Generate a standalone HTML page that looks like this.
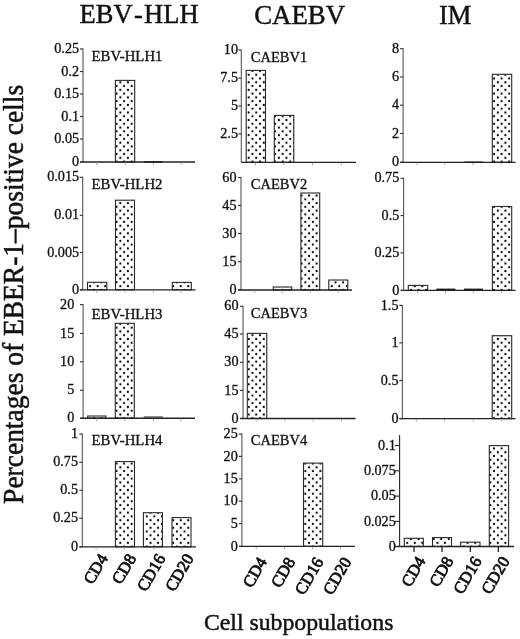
<!DOCTYPE html><html><head><meta charset="utf-8"><style>html,body{margin:0;padding:0;background:#fff;}svg{display:block;will-change:transform;filter:blur(0.3px);}text{font-family:"Liberation Serif", serif;fill:#111;stroke:#111;stroke-width:0.32px;}.t{stroke-width:0.45px;}.yl{stroke-width:0.5px;}</style></head><body>
<svg width="520" height="639" viewBox="0 0 520 639">
<defs><pattern id="dots" patternUnits="userSpaceOnUse" width="7.55" height="7.55" x="1.4275" y="1.1275"><circle cx="1.8875" cy="1.8875" r="1.1" fill="#000"/><circle cx="5.6625" cy="5.6625" r="1.1" fill="#000"/></pattern></defs>
<rect width="520" height="639" fill="#fff"/>
<text class="t" x="79.6" y="23.0" font-size="26.5">EBV</text><text class="t" x="134.0" y="23.0" font-size="26.5">-</text><text class="t" x="144.1" y="23.0" font-size="26.5">HLH</text>
<text class="t" x="254.2" y="24.4" font-size="26.8">CAEBV</text>
<text class="t" x="439.0" y="23.9" font-size="26.5">IM</text>
<text class="t" x="203.9" y="630.4" font-size="23.8" textLength="189.5" lengthAdjust="spacingAndGlyphs">Cell subpopulations</text>
<text class="yl" transform="translate(23.4,503.9) rotate(-90)" font-size="28.4" textLength="419" lengthAdjust="spacingAndGlyphs">Percentages of EBER-1–positive cells</text>
<rect x="115.40" y="80.40" width="19.30" height="81.60" fill="url(#dots)" stroke="#2a2a2a" stroke-width="1.1"/><line x1="83.00" y1="48.50" x2="83.00" y2="162.00" stroke="#555" stroke-width="1.1"/><line x1="80.20" y1="162.00" x2="195.00" y2="162.00" stroke="#222" stroke-width="1.35"/><line x1="80.00" y1="49.00" x2="83.00" y2="49.00" stroke="#333" stroke-width="1.15"/><text x="79.10" y="53.10" font-size="14.2" text-anchor="end">0.25</text><line x1="80.00" y1="71.50" x2="83.00" y2="71.50" stroke="#333" stroke-width="1.15"/><text x="79.10" y="75.60" font-size="14.2" text-anchor="end">0.2</text><line x1="80.00" y1="94.00" x2="83.00" y2="94.00" stroke="#333" stroke-width="1.15"/><text x="79.10" y="98.10" font-size="14.2" text-anchor="end">0.15</text><line x1="80.00" y1="116.50" x2="83.00" y2="116.50" stroke="#333" stroke-width="1.15"/><text x="79.10" y="120.60" font-size="14.2" text-anchor="end">0.1</text><line x1="80.00" y1="139.00" x2="83.00" y2="139.00" stroke="#333" stroke-width="1.15"/><text x="79.10" y="143.10" font-size="14.2" text-anchor="end">0.05</text><line x1="80.00" y1="162.00" x2="83.00" y2="162.00" stroke="#333" stroke-width="1.15"/><text x="79.10" y="166.10" font-size="14.2" text-anchor="end">0</text><line x1="96.60" y1="162.50" x2="96.60" y2="165.00" stroke="#aaa" stroke-width="1"/><line x1="125.00" y1="162.50" x2="125.00" y2="165.00" stroke="#aaa" stroke-width="1"/><line x1="153.40" y1="162.50" x2="153.40" y2="165.00" stroke="#aaa" stroke-width="1"/><line x1="181.20" y1="162.50" x2="181.20" y2="165.00" stroke="#aaa" stroke-width="1"/><text x="91.50" y="60.70" font-size="14.8">EBV-HLH1</text><line x1="143.70" y1="161.90" x2="162.50" y2="161.90" stroke="#1a1a1a" stroke-width="1.4"/>
<rect x="87.50" y="282.30" width="19.30" height="7.50" fill="url(#dots)" stroke="#2a2a2a" stroke-width="1.1"/><rect x="115.50" y="200.20" width="19.00" height="89.60" fill="url(#dots)" stroke="#2a2a2a" stroke-width="1.1"/><rect x="172.30" y="282.40" width="19.00" height="7.40" fill="url(#dots)" stroke="#2a2a2a" stroke-width="1.1"/><line x1="82.70" y1="176.80" x2="82.70" y2="289.80" stroke="#555" stroke-width="1.1"/><line x1="79.90" y1="289.80" x2="195.60" y2="289.80" stroke="#222" stroke-width="1.35"/><line x1="79.70" y1="177.30" x2="82.70" y2="177.30" stroke="#333" stroke-width="1.15"/><text x="79.10" y="181.40" font-size="14.2" text-anchor="end">0.015</text><line x1="79.70" y1="215.30" x2="82.70" y2="215.30" stroke="#333" stroke-width="1.15"/><text x="79.10" y="219.40" font-size="14.2" text-anchor="end">0.01</text><line x1="79.70" y1="252.50" x2="82.70" y2="252.50" stroke="#333" stroke-width="1.15"/><text x="79.10" y="256.60" font-size="14.2" text-anchor="end">0.005</text><line x1="79.70" y1="289.80" x2="82.70" y2="289.80" stroke="#333" stroke-width="1.15"/><text x="79.10" y="293.90" font-size="14.2" text-anchor="end">0</text><line x1="96.60" y1="290.30" x2="96.60" y2="292.80" stroke="#aaa" stroke-width="1"/><line x1="125.00" y1="290.30" x2="125.00" y2="292.80" stroke="#aaa" stroke-width="1"/><line x1="153.40" y1="290.30" x2="153.40" y2="292.80" stroke="#aaa" stroke-width="1"/><line x1="181.00" y1="290.30" x2="181.00" y2="292.80" stroke="#aaa" stroke-width="1"/><text x="91.50" y="188.80" font-size="14.8">EBV-HLH2</text>
<rect x="87.70" y="416.00" width="18.20" height="2.20" fill="url(#dots)" stroke="#2a2a2a" stroke-width="1.1"/><rect x="115.30" y="323.30" width="19.00" height="94.90" fill="url(#dots)" stroke="#2a2a2a" stroke-width="1.1"/><line x1="143.70" y1="417.00" x2="163.00" y2="417.00" stroke="#444" stroke-width="1.2"/><line x1="83.10" y1="304.30" x2="83.10" y2="418.20" stroke="#555" stroke-width="1.1"/><line x1="80.30" y1="418.20" x2="195.00" y2="418.20" stroke="#222" stroke-width="1.35"/><line x1="80.10" y1="304.60" x2="83.10" y2="304.60" stroke="#333" stroke-width="1.15"/><text x="74.30" y="308.70" font-size="14.2" text-anchor="end">20</text><line x1="80.10" y1="333.50" x2="83.10" y2="333.50" stroke="#333" stroke-width="1.15"/><text x="74.30" y="337.60" font-size="14.2" text-anchor="end">15</text><line x1="80.10" y1="361.80" x2="83.10" y2="361.80" stroke="#333" stroke-width="1.15"/><text x="74.30" y="365.90" font-size="14.2" text-anchor="end">10</text><line x1="80.10" y1="390.30" x2="83.10" y2="390.30" stroke="#333" stroke-width="1.15"/><text x="74.30" y="394.40" font-size="14.2" text-anchor="end">5</text><line x1="80.10" y1="418.20" x2="83.10" y2="418.20" stroke="#333" stroke-width="1.15"/><text x="74.30" y="422.30" font-size="14.2" text-anchor="end">0</text><line x1="96.80" y1="418.70" x2="96.80" y2="421.20" stroke="#aaa" stroke-width="1"/><line x1="125.00" y1="418.70" x2="125.00" y2="421.20" stroke="#aaa" stroke-width="1"/><line x1="153.40" y1="418.70" x2="153.40" y2="421.20" stroke="#aaa" stroke-width="1"/><line x1="181.00" y1="418.70" x2="181.00" y2="421.20" stroke="#aaa" stroke-width="1"/><text x="91.50" y="318.50" font-size="14.8">EBV-HLH3</text>
<rect x="115.40" y="461.60" width="19.10" height="85.20" fill="url(#dots)" stroke="#2a2a2a" stroke-width="1.1"/><rect x="143.40" y="512.70" width="19.00" height="34.10" fill="url(#dots)" stroke="#2a2a2a" stroke-width="1.1"/><rect x="172.00" y="517.60" width="19.00" height="29.20" fill="url(#dots)" stroke="#2a2a2a" stroke-width="1.1"/><line x1="82.30" y1="433.60" x2="82.30" y2="546.80" stroke="#555" stroke-width="1.1"/><line x1="79.50" y1="546.80" x2="196.00" y2="546.80" stroke="#222" stroke-width="1.35"/><line x1="79.30" y1="434.10" x2="82.30" y2="434.10" stroke="#333" stroke-width="1.15"/><text x="78.00" y="438.20" font-size="14.2" text-anchor="end">1</text><line x1="79.30" y1="462.30" x2="82.30" y2="462.30" stroke="#333" stroke-width="1.15"/><text x="78.00" y="466.40" font-size="14.2" text-anchor="end">0.75</text><line x1="79.30" y1="490.30" x2="82.30" y2="490.30" stroke="#333" stroke-width="1.15"/><text x="78.00" y="494.40" font-size="14.2" text-anchor="end">0.5</text><line x1="79.30" y1="518.20" x2="82.30" y2="518.20" stroke="#333" stroke-width="1.15"/><text x="78.00" y="522.30" font-size="14.2" text-anchor="end">0.25</text><line x1="79.30" y1="546.80" x2="82.30" y2="546.80" stroke="#333" stroke-width="1.15"/><text x="78.00" y="550.90" font-size="14.2" text-anchor="end">0</text><line x1="96.10" y1="547.30" x2="96.10" y2="549.80" stroke="#aaa" stroke-width="1"/><line x1="124.40" y1="547.30" x2="124.40" y2="549.80" stroke="#aaa" stroke-width="1"/><line x1="153.70" y1="547.30" x2="153.70" y2="549.80" stroke="#aaa" stroke-width="1"/><line x1="181.90" y1="547.30" x2="181.90" y2="549.80" stroke="#aaa" stroke-width="1"/><text x="91.50" y="445.00" font-size="14.8">EBV-HLH4</text>
<rect x="246.20" y="70.40" width="19.30" height="91.90" fill="url(#dots)" stroke="#2a2a2a" stroke-width="1.1"/><rect x="274.30" y="115.40" width="19.50" height="46.90" fill="url(#dots)" stroke="#2a2a2a" stroke-width="1.1"/><line x1="241.30" y1="49.50" x2="241.30" y2="162.30" stroke="#555" stroke-width="1.1"/><line x1="241.30" y1="162.30" x2="356.00" y2="162.30" stroke="#222" stroke-width="1.35"/><line x1="238.30" y1="50.00" x2="241.30" y2="50.00" stroke="#333" stroke-width="1.15"/><text x="238.00" y="54.10" font-size="14.2" text-anchor="end">10</text><line x1="238.30" y1="78.10" x2="241.30" y2="78.10" stroke="#333" stroke-width="1.15"/><text x="238.00" y="82.20" font-size="14.2" text-anchor="end">7.5</text><line x1="238.30" y1="106.00" x2="241.30" y2="106.00" stroke="#333" stroke-width="1.15"/><text x="238.00" y="110.10" font-size="14.2" text-anchor="end">5</text><line x1="238.30" y1="133.90" x2="241.30" y2="133.90" stroke="#333" stroke-width="1.15"/><text x="238.00" y="138.00" font-size="14.2" text-anchor="end">2.5</text><line x1="255.50" y1="162.80" x2="255.50" y2="165.30" stroke="#aaa" stroke-width="1"/><line x1="283.80" y1="162.80" x2="283.80" y2="165.30" stroke="#aaa" stroke-width="1"/><line x1="312.50" y1="162.80" x2="312.50" y2="165.30" stroke="#aaa" stroke-width="1"/><line x1="341.20" y1="162.80" x2="341.20" y2="165.30" stroke="#aaa" stroke-width="1"/><text x="250.80" y="62.20" font-size="14.5">CAEBV1</text>
<rect x="273.20" y="287.00" width="18.50" height="3.00" fill="url(#dots)" stroke="#2a2a2a" stroke-width="1.1"/><rect x="300.90" y="193.00" width="18.80" height="97.00" fill="url(#dots)" stroke="#2a2a2a" stroke-width="1.1"/><rect x="328.80" y="280.00" width="19.00" height="10.00" fill="url(#dots)" stroke="#2a2a2a" stroke-width="1.1"/><line x1="241.00" y1="177.00" x2="241.00" y2="290.00" stroke="#555" stroke-width="1.1"/><line x1="238.20" y1="290.00" x2="352.00" y2="290.00" stroke="#222" stroke-width="1.35"/><line x1="238.00" y1="177.50" x2="241.00" y2="177.50" stroke="#333" stroke-width="1.15"/><text x="236.50" y="181.60" font-size="14.2" text-anchor="end">60</text><line x1="238.00" y1="205.40" x2="241.00" y2="205.40" stroke="#333" stroke-width="1.15"/><text x="236.50" y="209.50" font-size="14.2" text-anchor="end">45</text><line x1="238.00" y1="233.60" x2="241.00" y2="233.60" stroke="#333" stroke-width="1.15"/><text x="236.50" y="237.70" font-size="14.2" text-anchor="end">30</text><line x1="238.00" y1="261.70" x2="241.00" y2="261.70" stroke="#333" stroke-width="1.15"/><text x="236.50" y="265.80" font-size="14.2" text-anchor="end">15</text><line x1="238.00" y1="290.00" x2="241.00" y2="290.00" stroke="#333" stroke-width="1.15"/><text x="236.50" y="294.10" font-size="14.2" text-anchor="end">0</text><line x1="254.80" y1="290.50" x2="254.80" y2="293.00" stroke="#aaa" stroke-width="1"/><line x1="282.20" y1="290.50" x2="282.20" y2="293.00" stroke="#aaa" stroke-width="1"/><line x1="310.40" y1="290.50" x2="310.40" y2="293.00" stroke="#aaa" stroke-width="1"/><line x1="338.00" y1="290.50" x2="338.00" y2="293.00" stroke="#aaa" stroke-width="1"/><text x="250.80" y="189.00" font-size="14.5">CAEBV2</text>
<rect x="247.30" y="333.40" width="19.50" height="85.10" fill="url(#dots)" stroke="#2a2a2a" stroke-width="1.1"/><line x1="243.05" y1="305.80" x2="243.05" y2="418.50" stroke="#555" stroke-width="1.1"/><line x1="240.25" y1="418.50" x2="355.50" y2="418.50" stroke="#222" stroke-width="1.35"/><line x1="240.05" y1="306.30" x2="243.05" y2="306.30" stroke="#333" stroke-width="1.15"/><text x="238.50" y="310.40" font-size="14.2" text-anchor="end">60</text><line x1="240.05" y1="334.00" x2="243.05" y2="334.00" stroke="#333" stroke-width="1.15"/><text x="238.50" y="338.10" font-size="14.2" text-anchor="end">45</text><line x1="240.05" y1="362.30" x2="243.05" y2="362.30" stroke="#333" stroke-width="1.15"/><text x="238.50" y="366.40" font-size="14.2" text-anchor="end">30</text><line x1="240.05" y1="390.40" x2="243.05" y2="390.40" stroke="#333" stroke-width="1.15"/><text x="238.50" y="394.50" font-size="14.2" text-anchor="end">15</text><line x1="240.05" y1="418.50" x2="243.05" y2="418.50" stroke="#333" stroke-width="1.15"/><text x="238.50" y="422.60" font-size="14.2" text-anchor="end">0</text><line x1="257.00" y1="419.00" x2="257.00" y2="421.50" stroke="#aaa" stroke-width="1"/><line x1="284.80" y1="419.00" x2="284.80" y2="421.50" stroke="#aaa" stroke-width="1"/><line x1="313.20" y1="419.00" x2="313.20" y2="421.50" stroke="#aaa" stroke-width="1"/><line x1="341.50" y1="419.00" x2="341.50" y2="421.50" stroke="#aaa" stroke-width="1"/><text x="250.80" y="317.80" font-size="14.5">CAEBV3</text>
<rect x="303.50" y="463.10" width="19.20" height="83.30" fill="url(#dots)" stroke="#2a2a2a" stroke-width="1.1"/><line x1="241.90" y1="433.60" x2="241.90" y2="546.40" stroke="#555" stroke-width="1.1"/><line x1="239.10" y1="546.40" x2="355.00" y2="546.40" stroke="#222" stroke-width="1.35"/><line x1="238.90" y1="434.10" x2="241.90" y2="434.10" stroke="#333" stroke-width="1.15"/><text x="237.80" y="438.20" font-size="14.2" text-anchor="end">25</text><line x1="238.90" y1="456.40" x2="241.90" y2="456.40" stroke="#333" stroke-width="1.15"/><text x="237.80" y="460.50" font-size="14.2" text-anchor="end">20</text><line x1="238.90" y1="478.80" x2="241.90" y2="478.80" stroke="#333" stroke-width="1.15"/><text x="237.80" y="482.90" font-size="14.2" text-anchor="end">15</text><line x1="238.90" y1="501.20" x2="241.90" y2="501.20" stroke="#333" stroke-width="1.15"/><text x="237.80" y="505.30" font-size="14.2" text-anchor="end">10</text><line x1="238.90" y1="523.60" x2="241.90" y2="523.60" stroke="#333" stroke-width="1.15"/><text x="237.80" y="527.70" font-size="14.2" text-anchor="end">5</text><line x1="238.90" y1="546.40" x2="241.90" y2="546.40" stroke="#333" stroke-width="1.15"/><text x="237.80" y="550.50" font-size="14.2" text-anchor="end">0</text><line x1="256.20" y1="546.90" x2="256.20" y2="549.40" stroke="#aaa" stroke-width="1"/><line x1="284.50" y1="546.90" x2="284.50" y2="549.40" stroke="#aaa" stroke-width="1"/><line x1="312.60" y1="546.90" x2="312.60" y2="549.40" stroke="#aaa" stroke-width="1"/><line x1="340.70" y1="546.90" x2="340.70" y2="549.40" stroke="#aaa" stroke-width="1"/><text x="250.80" y="445.00" font-size="14.5">CAEBV4</text>
<rect x="492.30" y="74.30" width="19.40" height="88.00" fill="url(#dots)" stroke="#2a2a2a" stroke-width="1.1"/><line x1="403.10" y1="48.20" x2="403.10" y2="162.30" stroke="#555" stroke-width="1.1"/><line x1="400.30" y1="162.30" x2="515.50" y2="162.30" stroke="#222" stroke-width="1.35"/><line x1="400.10" y1="48.70" x2="403.10" y2="48.70" stroke="#333" stroke-width="1.15"/><text x="399.10" y="52.80" font-size="14.2" text-anchor="end">8</text><line x1="400.10" y1="77.00" x2="403.10" y2="77.00" stroke="#333" stroke-width="1.15"/><text x="399.10" y="81.10" font-size="14.2" text-anchor="end">6</text><line x1="400.10" y1="105.20" x2="403.10" y2="105.20" stroke="#333" stroke-width="1.15"/><text x="399.10" y="109.30" font-size="14.2" text-anchor="end">4</text><line x1="400.10" y1="133.50" x2="403.10" y2="133.50" stroke="#333" stroke-width="1.15"/><text x="399.10" y="137.60" font-size="14.2" text-anchor="end">2</text><line x1="400.10" y1="162.30" x2="403.10" y2="162.30" stroke="#333" stroke-width="1.15"/><text x="399.10" y="166.40" font-size="14.2" text-anchor="end">0</text><line x1="417.00" y1="162.80" x2="417.00" y2="165.30" stroke="#aaa" stroke-width="1"/><line x1="444.80" y1="162.80" x2="444.80" y2="165.30" stroke="#aaa" stroke-width="1"/><line x1="473.00" y1="162.80" x2="473.00" y2="165.30" stroke="#aaa" stroke-width="1"/><line x1="501.20" y1="162.80" x2="501.20" y2="165.30" stroke="#aaa" stroke-width="1"/><line x1="464.60" y1="162.20" x2="483.00" y2="162.20" stroke="#1a1a1a" stroke-width="1.4"/>
<rect x="408.30" y="285.40" width="19.40" height="5.00" fill="url(#dots)" stroke="#2a2a2a" stroke-width="1.1"/><line x1="436.30" y1="289.40" x2="455.40" y2="289.40" stroke="#1a1a1a" stroke-width="1.6"/><line x1="464.00" y1="289.40" x2="483.00" y2="289.40" stroke="#1a1a1a" stroke-width="1.6"/><rect x="492.40" y="206.50" width="19.30" height="83.90" fill="url(#dots)" stroke="#2a2a2a" stroke-width="1.1"/><line x1="403.60" y1="177.80" x2="403.60" y2="290.40" stroke="#555" stroke-width="1.1"/><line x1="400.80" y1="290.40" x2="515.50" y2="290.40" stroke="#222" stroke-width="1.35"/><line x1="400.60" y1="178.30" x2="403.60" y2="178.30" stroke="#333" stroke-width="1.15"/><text x="399.30" y="182.40" font-size="14.2" text-anchor="end">0.75</text><line x1="400.60" y1="215.60" x2="403.60" y2="215.60" stroke="#333" stroke-width="1.15"/><text x="399.30" y="219.70" font-size="14.2" text-anchor="end">0.5</text><line x1="400.60" y1="252.90" x2="403.60" y2="252.90" stroke="#333" stroke-width="1.15"/><text x="399.30" y="257.00" font-size="14.2" text-anchor="end">0.25</text><line x1="400.60" y1="290.40" x2="403.60" y2="290.40" stroke="#333" stroke-width="1.15"/><text x="399.30" y="294.50" font-size="14.2" text-anchor="end">0</text><line x1="417.50" y1="290.90" x2="417.50" y2="293.40" stroke="#aaa" stroke-width="1"/><line x1="445.50" y1="290.90" x2="445.50" y2="293.40" stroke="#aaa" stroke-width="1"/><line x1="473.20" y1="290.90" x2="473.20" y2="293.40" stroke="#aaa" stroke-width="1"/><line x1="501.50" y1="290.90" x2="501.50" y2="293.40" stroke="#aaa" stroke-width="1"/>
<rect x="492.20" y="335.70" width="19.50" height="82.95" fill="url(#dots)" stroke="#2a2a2a" stroke-width="1.1"/><line x1="402.35" y1="304.90" x2="402.35" y2="418.65" stroke="#555" stroke-width="1.1"/><line x1="399.55" y1="418.65" x2="515.50" y2="418.65" stroke="#222" stroke-width="1.35"/><line x1="399.35" y1="305.40" x2="402.35" y2="305.40" stroke="#333" stroke-width="1.15"/><text x="398.50" y="309.50" font-size="14.2" text-anchor="end">1.5</text><line x1="399.35" y1="342.90" x2="402.35" y2="342.90" stroke="#333" stroke-width="1.15"/><text x="398.50" y="347.00" font-size="14.2" text-anchor="end">1</text><line x1="399.35" y1="380.50" x2="402.35" y2="380.50" stroke="#333" stroke-width="1.15"/><text x="398.50" y="384.60" font-size="14.2" text-anchor="end">0.5</text><line x1="399.35" y1="418.65" x2="402.35" y2="418.65" stroke="#333" stroke-width="1.15"/><text x="398.50" y="422.75" font-size="14.2" text-anchor="end">0</text><line x1="416.30" y1="419.15" x2="416.30" y2="421.65" stroke="#aaa" stroke-width="1"/><line x1="444.60" y1="419.15" x2="444.60" y2="421.65" stroke="#aaa" stroke-width="1"/><line x1="473.20" y1="419.15" x2="473.20" y2="421.65" stroke="#aaa" stroke-width="1"/><line x1="501.50" y1="419.15" x2="501.50" y2="421.65" stroke="#aaa" stroke-width="1"/>
<rect x="404.30" y="538.30" width="19.00" height="8.20" fill="url(#dots)" stroke="#2a2a2a" stroke-width="1.1"/><rect x="432.50" y="537.60" width="19.00" height="8.90" fill="url(#dots)" stroke="#2a2a2a" stroke-width="1.1"/><rect x="460.70" y="542.20" width="19.30" height="4.30" fill="url(#dots)" stroke="#2a2a2a" stroke-width="1.1"/><rect x="489.30" y="445.60" width="19.30" height="100.90" fill="url(#dots)" stroke="#2a2a2a" stroke-width="1.1"/><line x1="399.60" y1="435.10" x2="399.60" y2="546.50" stroke="#222" stroke-width="1.1"/><line x1="396.80" y1="546.50" x2="514.00" y2="546.50" stroke="#222" stroke-width="1.35"/><line x1="394.80" y1="445.50" x2="399.60" y2="445.50" stroke="#333" stroke-width="1.15"/><text x="395.80" y="449.60" font-size="14.2" text-anchor="end">0.1</text><line x1="394.80" y1="470.80" x2="399.60" y2="470.80" stroke="#333" stroke-width="1.15"/><text x="395.80" y="474.90" font-size="14.2" text-anchor="end">0.075</text><line x1="394.80" y1="496.10" x2="399.60" y2="496.10" stroke="#333" stroke-width="1.15"/><text x="395.80" y="500.20" font-size="14.2" text-anchor="end">0.05</text><line x1="394.80" y1="521.40" x2="399.60" y2="521.40" stroke="#333" stroke-width="1.15"/><text x="395.80" y="525.50" font-size="14.2" text-anchor="end">0.025</text><line x1="394.80" y1="546.50" x2="399.60" y2="546.50" stroke="#333" stroke-width="1.15"/><text x="395.80" y="550.60" font-size="14.2" text-anchor="end">0</text><line x1="414.00" y1="547.00" x2="414.00" y2="552.00" stroke="#111" stroke-width="1.2"/><line x1="442.00" y1="547.00" x2="442.00" y2="552.00" stroke="#111" stroke-width="1.2"/><line x1="470.30" y1="547.00" x2="470.30" y2="552.00" stroke="#111" stroke-width="1.2"/><line x1="498.30" y1="547.00" x2="498.30" y2="552.00" stroke="#111" stroke-width="1.2"/>
<text transform="translate(108.30,558.00) rotate(-60)" font-size="16.7" text-anchor="end" style="stroke-width:0.8px">CD4</text>
<text transform="translate(136.60,558.00) rotate(-60)" font-size="16.7" text-anchor="end" style="stroke-width:0.8px">CD8</text>
<text transform="translate(165.90,558.00) rotate(-60)" font-size="16.7" text-anchor="end" style="stroke-width:0.8px">CD16</text>
<text transform="translate(194.10,558.00) rotate(-60)" font-size="16.7" text-anchor="end" style="stroke-width:0.8px">CD20</text>
<text transform="translate(267.40,561.40) rotate(-60)" font-size="16.7" text-anchor="end" style="stroke-width:0.8px">CD4</text>
<text transform="translate(295.70,561.40) rotate(-60)" font-size="16.7" text-anchor="end" style="stroke-width:0.8px">CD8</text>
<text transform="translate(323.80,561.40) rotate(-60)" font-size="16.7" text-anchor="end" style="stroke-width:0.8px">CD16</text>
<text transform="translate(351.90,561.40) rotate(-60)" font-size="16.7" text-anchor="end" style="stroke-width:0.8px">CD20</text>
<text transform="translate(425.90,560.70) rotate(-60)" font-size="16.7" text-anchor="end" style="stroke-width:0.8px">CD4</text>
<text transform="translate(453.90,560.70) rotate(-60)" font-size="16.7" text-anchor="end" style="stroke-width:0.8px">CD8</text>
<text transform="translate(482.20,560.70) rotate(-60)" font-size="16.7" text-anchor="end" style="stroke-width:0.8px">CD16</text>
<text transform="translate(510.20,560.70) rotate(-60)" font-size="16.7" text-anchor="end" style="stroke-width:0.8px">CD20</text>
</svg></body></html>
